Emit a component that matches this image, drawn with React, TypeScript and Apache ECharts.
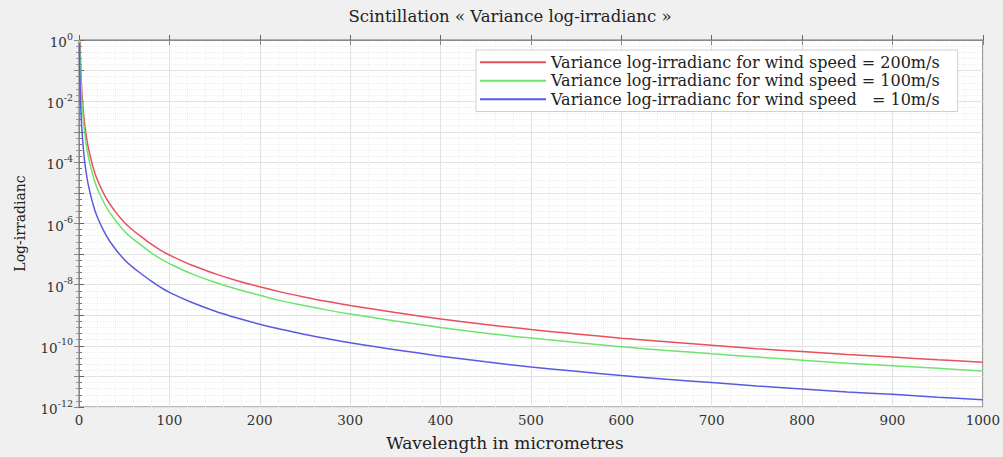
import React, { useEffect, useRef } from "react";
import * as echarts from "echarts";

const wavelength = [0.5, 1, 2, 3, 5, 7, 10, 15, 20, 30, 40, 50, 60, 70, 80, 90, 100, 125, 150, 175, 200, 225, 250, 275, 300, 350, 400, 450, 500, 550, 600, 650, 700, 750, 800, 850, 900, 950, 1000];
const wind200 = [1.0, 0.89, 0.1, 0.024, 4.0e-3, 1.2e-3, 3.3e-4, 7.9e-5, 2.8e-5, 6.8e-6, 2.5e-6, 1.1e-6, 5.9e-7, 3.5e-7, 2.1e-7, 1.35e-7, 9.3e-8, 4.3e-8, 2.3e-8, 1.35e-8, 8.5e-9, 5.6e-9, 3.9e-9, 2.8e-9, 2.1e-9, 1.23e-9, 7.6e-10, 5.0e-10, 3.4e-10, 2.45e-10, 1.78e-10, 1.35e-10, 1.05e-10, 8.1e-11, 6.5e-11, 5.2e-11, 4.3e-11, 3.5e-11, 2.9e-11];
const wind100 = [1.0, 0.46, 0.052, 0.0125, 2.1e-3, 6.2e-4, 1.7e-4, 4.1e-5, 1.45e-5, 3.5e-6, 1.3e-6, 5.7e-7, 3.1e-7, 1.85e-7, 1.1e-7, 7.1e-8, 4.9e-8, 2.25e-8, 1.2e-8, 7.1e-9, 4.5e-9, 2.9e-9, 2.05e-9, 1.47e-9, 1.1e-9, 6.5e-10, 4.0e-10, 2.6e-10, 1.8e-10, 1.29e-10, 9.3e-11, 7.1e-11, 5.5e-11, 4.3e-11, 3.4e-11, 2.7e-11, 2.25e-11, 1.85e-11, 1.5e-11];
const wind10 = [0.8, 0.06, 6.0e-3, 1.45e-3, 2.4e-4, 7.2e-5, 2.0e-5, 4.8e-6, 1.7e-6, 4.1e-7, 1.5e-7, 6.7e-8, 3.6e-8, 2.15e-8, 1.3e-8, 8.3e-9, 5.6e-9, 2.6e-9, 1.38e-9, 8.1e-10, 5.1e-10, 3.4e-10, 2.35e-10, 1.7e-10, 1.26e-10, 7.4e-11, 4.6e-11, 3.0e-11, 2.05e-11, 1.47e-11, 1.07e-11, 8.1e-12, 6.3e-12, 4.9e-12, 3.9e-12, 3.1e-12, 2.6e-12, 2.1e-12, 1.74e-12];

const seriesNames = [
  "Variance log-irradianc for wind speed = 200m/s",
  "Variance log-irradianc for wind speed = 100m/s",
  "Variance log-irradianc for wind speed   = 10m/s",
];
const seriesColors = ["#e8505a", "#6ee46e", "#5a5ae0"];

const FONT = "'DejaVu Serif', serif";

export default function App() {
  const ref = useRef<HTMLDivElement>(null);
  useEffect(() => {
    if (!ref.current) return;
    const chart = echarts.init(ref.current, undefined, { renderer: "svg" });
    const datasets = [wind200, wind100, wind10];
    chart.setOption({
      animation: false,
      backgroundColor: "#f0f0f0",
      title: {
        text: "Scintillation « Variance log-irradianc »",
        left: 505,
        top: 3,
        textAlign: "center",
        textStyle: { fontFamily: FONT, fontSize: 16.5, fontWeight: "normal", color: "#222" },
      },
      legend: {
        orient: "vertical",
        left: 476,
        top: 50,
        itemGap: 0,
        itemWidth: 66,
        itemHeight: 2,
        icon: "rect",
        backgroundColor: "#ffffff",
        borderColor: "#d0d0d0",
        borderWidth: 1,
        padding: [3, 18, 3, 4],
        textStyle: { fontFamily: FONT, fontSize: 16, color: "#222", lineHeight: 18.5 },
        data: seriesNames,
      },
      grid: {
        left: 79,
        right: 17,
        top: 40,
        bottom: 50,
        show: true,
        backgroundColor: "#ffffff",
        borderColor: "#707070",
        borderWidth: 1,
      },
      xAxis: [
        {
          type: "value",
          min: 0,
          max: 1000,
          interval: 100,
          name: "Wavelength in micrometres",
          nameLocation: "middle",
          nameGap: 27,
          nameTextStyle: { fontFamily: FONT, fontSize: 17, color: "#222", padding: [0, 52, 0, 0] },
          axisLine: { show: true, lineStyle: { color: "#666" } },
          axisTick: { show: true, inside: true, length: 5, lineStyle: { color: "#666" } },
          axisLabel: { fontFamily: FONT, fontSize: 13.5, color: "#333", margin: 6, formatter: (v: number) => String(v) },
          splitLine: { show: true, lineStyle: { color: "#e2e2e2", width: 1 } },
          minorTick: { show: false, splitNumber: 5 },
          minorSplitLine: { show: true, lineStyle: { color: "#eeeeee", type: "dotted" } },
        },
        {
          type: "value",
          position: "top",
          min: 0,
          max: 1000,
          interval: 100,
          axisLine: { show: true, lineStyle: { color: "#888" } },
          axisTick: { show: true, inside: true, length: 5, lineStyle: { color: "#888" } },
          axisLabel: { show: false },
          splitLine: { show: false },
        },
      ],
      yAxis: [
        {
          type: "value",
          min: -12,
          max: 0,
          interval: 1,
          name: "Log-irradianc",
          nameLocation: "middle",
          nameGap: 52,
          nameRotate: 90,
          nameTextStyle: { fontFamily: FONT, fontSize: 14, color: "#222" },
          axisLine: { show: true, lineStyle: { color: "#666" } },
          axisTick: { show: true, inside: true, length: 5, lineStyle: { color: "#666" } },
          axisLabel: {
            margin: 6,
            formatter: (v: number) => {
              const e = Math.round(v);
              if (e % 2 !== 0) return "";
              return `{b|10}{s|${e}}`;
            },
            rich: {
              b: { fontFamily: FONT, fontSize: 13.5, color: "#333", lineHeight: 18, verticalAlign: "bottom" },
              s: { fontFamily: FONT, fontSize: 9.5, color: "#333", lineHeight: 18, verticalAlign: "top", padding: [0, 0, 8, 0] },
            },
          },
          splitLine: { show: true, lineStyle: { color: "#e2e2e2", width: 1 } },
          minorTick: { show: true, splitNumber: 5, length: 3, lineStyle: { color: "#777" } },
          minorSplitLine: { show: true, lineStyle: { color: "#eeeeee", type: "dotted" } },
        },
        {
          type: "value",
          min: -12,
          max: 0,
          interval: 1,
          position: "right",
          axisLine: { show: true, lineStyle: { color: "#888" } },
          axisTick: { show: true, inside: true, length: 5, lineStyle: { color: "#888" } },
          minorTick: { show: true, splitNumber: 5, length: 3, lineStyle: { color: "#999" } },
          axisLabel: { show: false },
          splitLine: { show: false },
        },
      ],
      series: datasets.map((d, i) => ({
        name: seriesNames[i],
        type: "line",
        xAxisIndex: 0,
        yAxisIndex: 0,
        data: wavelength.map((x, j) => [x, Math.log10(d[j])]),
        showSymbol: false,
        smooth: 0.4,
        lineStyle: { color: seriesColors[i], width: 1.5 },
        itemStyle: { color: seriesColors[i] },
        clip: true,
      })),
    });
    return () => chart.dispose();
  }, []);
  return <div ref={ref} style={{ position: "fixed", left: 0, top: 0, width: 1003, height: 457 }} />;
}
